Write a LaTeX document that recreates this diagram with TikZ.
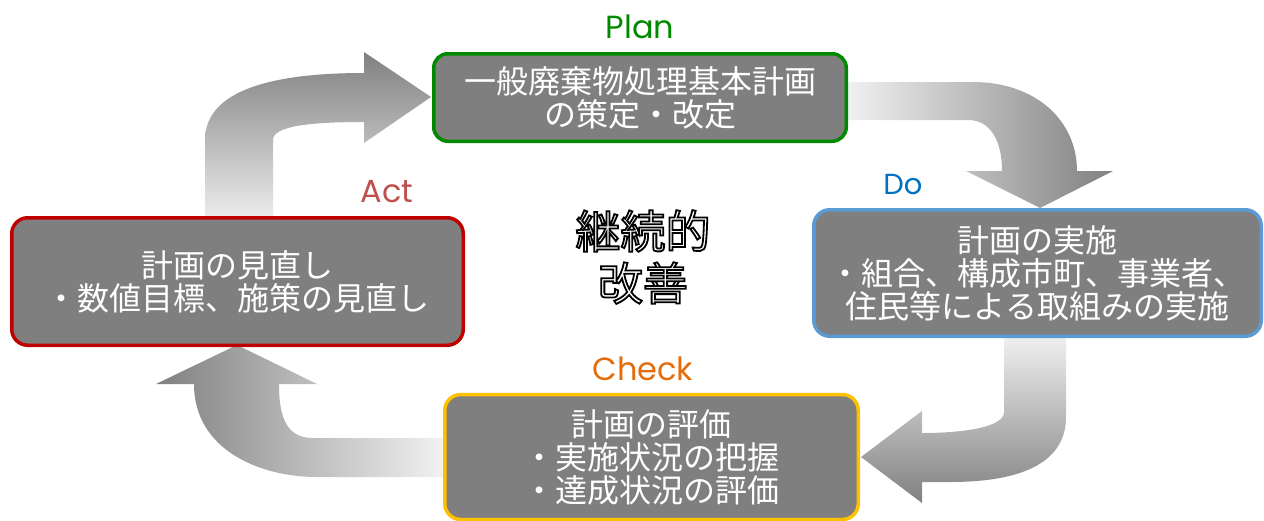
\documentclass[tikz,border=0pt]{standalone}
\usepackage{fontspec}
\newfontfamily\jpfont{Noto Sans CJK JP}
\newfontfamily\latfont{Poppins}
\definecolor{boxgray}{HTML}{7F7F7F}
\definecolor{arrdark}{HTML}{808080}
\definecolor{arrlight}{HTML}{F4F4F4}
\definecolor{plangreen}{HTML}{008A00}
\definecolor{doblue}{HTML}{0070C0}
\definecolor{doborder}{HTML}{5B9BD5}
\definecolor{checkorange}{HTML}{E46C0A}
\definecolor{checkborder}{HTML}{FFC000}
\definecolor{actred}{HTML}{C0504D}
\definecolor{actborder}{HTML}{C00000}
\newcommand{\myoutline}[1]{\special{pdf:literal direct 2 Tr 1.8 w 0 G}#1\special{pdf:literal direct 0 Tr}}
\begin{document}
\begin{tikzpicture}[x=1pt,y=-1pt,
  pdcabox/.style={draw, line width=3.5pt, rounded corners=16pt, fill=boxgray,
    text=white, font=\jpfont\fontsize{32}{33}\selectfont, align=center, inner sep=0pt},
  phaselabel/.style={font=\latfont\fontsize{32}{32}\selectfont},
  blockarrow/.style={draw=none}]
\useasboundingbox (0,0) rectangle (1264,520);

% block arrows
\path[blockarrow, top color=arrdark, bottom color=arrlight]
  (205,230) -- (205,140) .. controls (205,95) and (260,73) .. (364,73)
  -- (364,52) -- (431,97) -- (364,143) -- (364,122)
  .. controls (310,122) and (273,126) .. (273,140) -- (273,230) -- cycle;
\path[blockarrow, left color=arrlight, right color=arrdark]
  (840,82) -- (973,82) .. controls (1035,82) and (1077,120) .. (1077,171)
  -- (1113,171) -- (1040,208) -- (966,171) -- (1002,171)
  .. controls (1002,140) and (990,120) .. (968,120) -- (840,120) -- cycle;
\path[blockarrow, top color=arrlight, bottom color=arrdark]
  (1004,330) -- (1004,412) .. controls (1004,428) and (960,433) .. (922,433)
  -- (922,411) -- (861,457) -- (922,503) -- (922,482) -- (950,482)
  .. controls (1035,482) and (1066,455) .. (1066,417) -- (1066,330) -- cycle;
\path[blockarrow, left color=arrdark, right color=arrlight]
  (450,438) -- (313,438) .. controls (288,438) and (279,420) .. (279,384)
  -- (317,384) -- (237,345) -- (156,384) -- (194,384)
  .. controls (194,450) and (260,477) .. (317,477) -- (450,477) -- cycle;

% boxes
\node[pdcabox, draw=plangreen, minimum width=412.5pt, minimum height=87.5pt, rounded corners=14pt]
  (plan) at (640,97.5) {一般廃棄物処理基本計画\\の策定・改定};
\node[pdcabox, draw=doborder, minimum width=447.5pt, minimum height=126.5pt]
  (do) at (1037.5,273) {計画の実施\\・組合、構成市町、事業者、\\住民等による取組みの実施};
\node[pdcabox, draw=checkborder, minimum width=413.5pt, minimum height=125pt]
  (check) at (651.5,457) {計画の評価\\・実施状況の把握\\・達成状況の評価};
\node[pdcabox, draw=actborder, minimum width=451.5pt, minimum height=127.5pt]
  (act) at (237.5,281.5) {計画の見直し\\・数値目標、施策の見直し};

% phase labels
\node[phaselabel, text=plangreen] (planlbl) at (640,26.5) {Plan};
\node[phaselabel, text=doblue, font=\latfont\fontsize{29}{29}\selectfont] (dolbl) at (903,185) {Do};
\node[phaselabel, text=checkorange] (checklbl) at (643,368.5) {Check};
\node[phaselabel, text=actred] (actlbl) at (387,191.5) {Act};

% centre text
\node[text=white, font=\jpfont\fontsize{45}{52}\selectfont, align=center, inner sep=0pt]
  (centre) at (643,257) {\myoutline{継続的}\\\myoutline{改善}};
\end{tikzpicture}
\end{document}
